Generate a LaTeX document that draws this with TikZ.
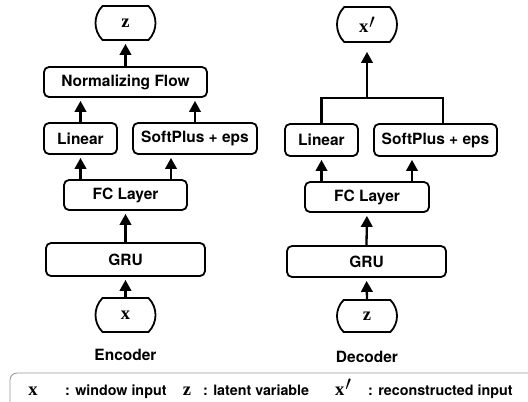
\documentclass[tikz,border=0pt]{standalone}
\usepackage{fontspec}
\newfontfamily\helv{TeX Gyre Heros}
\newfontfamily\tms{Liberation Serif}
\usetikzlibrary{arrows.meta,shapes.misc,calc}
\newcommand{\mv}[1]{{\tms\bfseries\fontsize{18.5}{20}\selectfont #1}}
\newcommand{\prm}{\hspace{0.8pt}\raisebox{4.2pt}{\scalebox{1.2}{$\prime$}}}
\tikzset{
 box/.style={draw, line width=1.8pt, rounded corners=5pt, inner sep=0pt, font=\helv\bfseries\fontsize{15.5}{18}\selectfont},
 term/.style={draw, line width=1.8pt, rounded rectangle, rounded rectangle arc length=90, inner sep=0pt, minimum width=60pt, minimum height=34pt},
 arr/.style={line width=2.3pt, -{Triangle[width=11.5pt,length=11pt]}, shorten >=3pt},
 conn/.style={line width=2.3pt},
 lbl/.style={font=\helv\bfseries\fontsize{15.5}{18}\selectfont, inner sep=0pt},
 leg/.style={font=\helv\bfseries\fontsize{14.3}{17}\selectfont, inner sep=0pt},
 mlbl/.style={inner sep=0pt},
}
\begin{document}
\begin{tikzpicture}[x=1pt,y=-1pt]
\useasboundingbox (0,0) rectangle (528,402);
% ---------- Encoder ----------
\node[term] (zE) at (125.5,23) {\mv{z}};
\node[box, minimum width=163pt, minimum height=30pt] (NF) at (125.5,82) {Normalizing Flow};
\node[box, minimum width=73pt, minimum height=31pt] (LinE) at (80.5,138.5) {Linear};
\node[box, minimum width=124pt, minimum height=31pt] (SPE) at (195,138.5) {SoftPlus + eps};
\node[box, minimum width=123pt, minimum height=30pt] (FCE) at (125.5,195) {FC Layer};
\node[box, minimum width=159pt, minimum height=33pt] (GRUE) at (125.5,259.5) {GRU};
\node[term] (xE) at (125.5,315) {\mv{x}};
\node[lbl] (encl) at (125.5,355) {Encoder};
\draw[arr] (xE.north) -- (GRUE.south);
\draw[arr] (GRUE.north) -- (FCE.south);
\draw[arr] (LinE.south |- FCE.north) -- (LinE.south);
\draw[arr] ([xshift=45.5pt]FCE.north) -- ([xshift=-24pt]SPE.south);
\draw[arr] (LinE.north) -- (LinE.north |- NF.south);
\draw[arr] (SPE.north) -- (SPE.north |- NF.south);
\draw[arr] (NF.north) -- (zE.south);
% ---------- Decoder ----------
\node[term, minimum height=35pt] (xpD) at (367,24.5) {\mv{x\prm}};
\node[box, minimum width=73pt, minimum height=32pt] (LinD) at (321.5,140) {Linear};
\node[box, minimum width=123pt, minimum height=32pt] (SPD) at (435.5,140) {SoftPlus + eps};
\node[box, minimum width=124pt, minimum height=30pt] (FCD) at (367,197) {FC Layer};
\node[box, minimum width=159pt, minimum height=31pt] (GRUD) at (366.5,261.5) {GRU};
\node[term, minimum height=32pt] (zD) at (367,316) {\mv{z}};
\node[lbl] (decl) at (367,357) {Decoder};
\coordinate (J) at (367,98);
\draw[arr] (zD.north) -- (GRUD.south);
\draw[arr] (GRUD.north) -- (FCD.south);
\draw[arr] (LinD.south |- FCD.north) -- (LinD.south);
\draw[arr] ([xshift=45pt]FCD.north) -- ([xshift=-23.5pt]SPD.south);
\draw[conn] (LinD.north) |- (J) -| ([xshift=7.5pt]SPD.north);
\draw[arr, shorten >=9pt] (J) -- (xpD.south);
% ---------- Legend ----------
\draw[line width=0.9pt, draw=black!40, rounded corners=7pt] (10,373) rectangle (620,470);
\node[mlbl, anchor=base] (l1) at (33,395) {\mv{x}};
\node[leg, anchor=base west] (l1t) at (65,395) {: window input};
\node[mlbl, anchor=base] (l2) at (187,395) {\mv{z}};
\node[leg, anchor=base west] (l2t) at (203,395) {: latent variable};
\node[mlbl, anchor=base west] (l3) at (335,395) {\mv{x\prm}};
\node[leg, anchor=base west] (l3t) at (368,395) {: reconstructed input};
\end{tikzpicture}
\end{document}
